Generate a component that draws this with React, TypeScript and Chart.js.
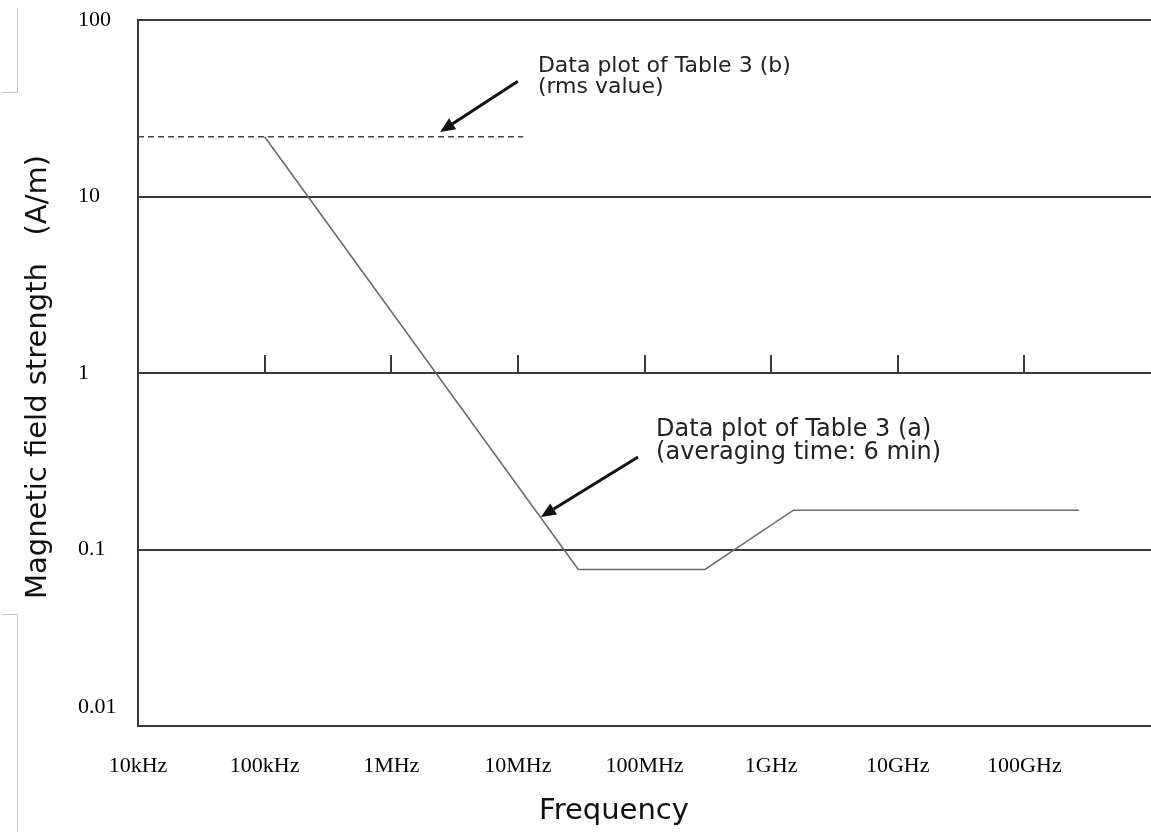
import React, { useEffect, useRef } from "react";
import { Chart, registerables } from "chart.js";

Chart.register(...registerables);

// ---- data ----
const limitFreqHz = [1e5, 3e7, 3e8, 1.5e9, 2.7e11];
const limitAvgAm = [21.8, 0.077, 0.077, 0.167, 0.167];
const rmsFreqHz = [1e4, 1.1e7];
const rmsAm = [21.8, 21.8];

const xTickValues = [1e4, 1e5, 1e6, 1e7, 1e8, 1e9, 1e10, 1e11];
const xTickLabels = ["10kHz", "100kHz", "1MHz", "10MHz", "100MHz", "1GHz", "10GHz", "100GHz"];
const yTickValues = [0.01, 0.1, 1, 10, 100];
const yTickLabels = ["0.01", "0.1", "1", "10", "100"];
const innerTickValues = [1e5, 1e6, 1e7, 1e8, 1e9, 1e10, 1e11];
const innerTickLevel = 1;

const xTitle = "Frequency";
const yTitle = "Magnetic field strength   (A/m)";

const annotationB = {
  lines: ["Data plot of Table 3 (b)", "(rms value)"],
  tail: [1e7, 45],
  head: [2.43e6, 23.2],
};
const annotationA = {
  lines: ["Data plot of Table 3 (a)", "(averaging time: 6 min)"],
  tail: [8.9e7, 0.334],
  head: [1.52e7, 0.153],
};

const SANS = "'DejaVu Sans', Verdana, sans-serif";
const SERIF = "'Liberation Serif', 'Times New Roman', serif";
const LINE = "#3a3a3a";

function drawArrow(ctx: CanvasRenderingContext2D, x1: number, y1: number, x2: number, y2: number) {
  const ang = Math.atan2(y2 - y1, x2 - x1);
  const headLen = 15;
  const headHalf = 6.5;
  const bx = x2 - headLen * Math.cos(ang);
  const by = y2 - headLen * Math.sin(ang);
  ctx.save();
  ctx.strokeStyle = "#111";
  ctx.fillStyle = "#111";
  ctx.lineWidth = 3;
  ctx.beginPath();
  ctx.moveTo(x1, y1);
  ctx.lineTo(bx, by);
  ctx.stroke();
  ctx.beginPath();
  ctx.moveTo(x2, y2);
  ctx.lineTo(bx + headHalf * Math.sin(ang), by - headHalf * Math.cos(ang));
  ctx.lineTo(bx - headHalf * Math.sin(ang), by + headHalf * Math.cos(ang));
  ctx.closePath();
  ctx.fill();
  ctx.restore();
}

const decorPlugin = {
  id: "decor",
  beforeDatasetsDraw(chart: any) {
    const ctx = chart.ctx as CanvasRenderingContext2D;
    const xs = chart.scales.x;
    const ys = chart.scales.y;
    const y = ys.getPixelForValue(innerTickLevel);
    ctx.save();
    ctx.strokeStyle = LINE;
    ctx.lineWidth = 2;
    innerTickValues.forEach((v) => {
      const x = Math.round(xs.getPixelForValue(v));
      ctx.beginPath();
      ctx.moveTo(x, y);
      ctx.lineTo(x, y - 18);
      ctx.stroke();
    });
    ctx.restore();
  },
  afterDraw(chart: any) {
    const ctx = chart.ctx as CanvasRenderingContext2D;
    const xs = chart.scales.x;
    const ys = chart.scales.y;
    ctx.save();
    ctx.fillStyle = "#111";
    // y title
    ctx.save();
    ctx.translate(38, 377);
    ctx.rotate(-Math.PI / 2);
    ctx.font = `29px ${SANS}`;
    ctx.textAlign = "center";
    ctx.textBaseline = "middle";
    ctx.fillText(yTitle, 0, 0);
    ctx.restore();
    // x title
    ctx.font = `29px ${SANS}`;
    ctx.textAlign = "center";
    ctx.textBaseline = "alphabetic";
    ctx.fillText(xTitle, 614, 819);

    // annotation b
    const bt = [xs.getPixelForValue(annotationB.tail[0]), ys.getPixelForValue(annotationB.tail[1])];
    const bh = [xs.getPixelForValue(annotationB.head[0]), ys.getPixelForValue(annotationB.head[1])];
    drawArrow(ctx, bt[0], bt[1], bh[0], bh[1]);
    ctx.font = `22px ${SANS}`;
    ctx.textAlign = "left";
    ctx.fillStyle = "#222";
    ctx.fillText(annotationB.lines[0], bt[0] + 20, bt[1] - 9);
    ctx.fillText(annotationB.lines[1], bt[0] + 20, bt[1] + 12);

    // annotation a
    const at = [xs.getPixelForValue(annotationA.tail[0]), ys.getPixelForValue(annotationA.tail[1])];
    const ah = [xs.getPixelForValue(annotationA.head[0]), ys.getPixelForValue(annotationA.head[1])];
    drawArrow(ctx, at[0], at[1], ah[0], ah[1]);
    ctx.font = `24px ${SANS}`;
    ctx.fillStyle = "#222";
    ctx.fillText(annotationA.lines[0], at[0] + 18, at[1] - 21);
    ctx.fillText(annotationA.lines[1], at[0] + 18, at[1] + 2);
    ctx.restore();
  },
};

export default function App() {
  const canvasRef = useRef<HTMLCanvasElement>(null);

  useEffect(() => {
    const canvas = canvasRef.current;
    if (!canvas) return;
    const chart = new Chart(canvas, {
      type: "line",
      data: {
        datasets: [
          {
            label: "Table 3 (a)",
            data: limitFreqHz.map((f, i) => ({ x: f, y: limitAvgAm[i] })),
            borderColor: "#6a6a6a",
            borderWidth: 1.6,
            pointRadius: 0,
            tension: 0,
            fill: false,
          },
          {
            label: "Table 3 (b)",
            data: rmsFreqHz.map((f, i) => ({ x: f, y: rmsAm[i] })),
            borderColor: "#444",
            borderWidth: 1.6,
            borderDash: [6, 4],
            pointRadius: 0,
            tension: 0,
            fill: false,
          },
        ],
      },
      options: {
        responsive: false,
        animation: false,
        events: [],
        layout: { padding: { left: 78, top: 20, right: 0, bottom: 0 } },
        plugins: {
          legend: { display: false },
          tooltip: { enabled: false },
          title: { display: false },
        },
        scales: {
          x: {
            type: "logarithmic",
            min: 1e4,
            max: 1e12,
            afterBuildTicks: (scale: any) => {
              scale.ticks = xTickValues.map((v) => ({ value: v }));
            },
            afterFit: (scale: any) => {
              scale.height = 106;
            },
            ticks: {
              autoSkip: false,
              maxRotation: 0,
              minRotation: 0,
              padding: 27,
              color: "#000",
              font: { family: SERIF, size: 22 },
              callback: (_v: any, i: number) => xTickLabels[i],
            },
            grid: { display: false, drawTicks: false },
            border: { display: true, color: LINE, width: 2 },
          },
          y: {
            type: "logarithmic",
            min: 0.01,
            max: 100,
            afterBuildTicks: (scale: any) => {
              scale.ticks = yTickValues.map((v) => ({ value: v }));
            },
            afterFit: (scale: any) => {
              scale.width = 60;
            },
            ticks: {
              crossAlign: "far",
              padding: 0,
              color: "#000",
              font: (ctx: any) =>
                ctx.index === 0
                  ? { family: SERIF, size: 22, lineHeight: 1.75 }
                  : { family: SERIF, size: 22 },
              callback: (_v: any, i: number) => (i === 0 ? [yTickLabels[i], ""] : yTickLabels[i]),
            },
            grid: { display: true, drawTicks: false, color: LINE, lineWidth: 2 },
            border: { display: true, color: LINE, width: 2 },
          },
        },
      },
      plugins: [decorPlugin],
    } as any);
    return () => chart.destroy();
  }, []);

  const edge = { position: "absolute" as const, background: "#c4c4c4" };
  return (
    <div style={{ position: "absolute", left: 0, top: 0, width: 1151, height: 832, background: "#fff" }}>
      <canvas ref={canvasRef} width={1151} height={832} style={{ display: "block" }} />
      <div style={{ ...edge, left: 17, top: 8, width: 1, height: 84 }} />
      <div style={{ ...edge, left: 2, top: 92, width: 16, height: 1 }} />
      <div style={{ ...edge, left: 17, top: 614, width: 1, height: 218 }} />
      <div style={{ ...edge, left: 2, top: 614, width: 16, height: 1 }} />
    </div>
  );
}
